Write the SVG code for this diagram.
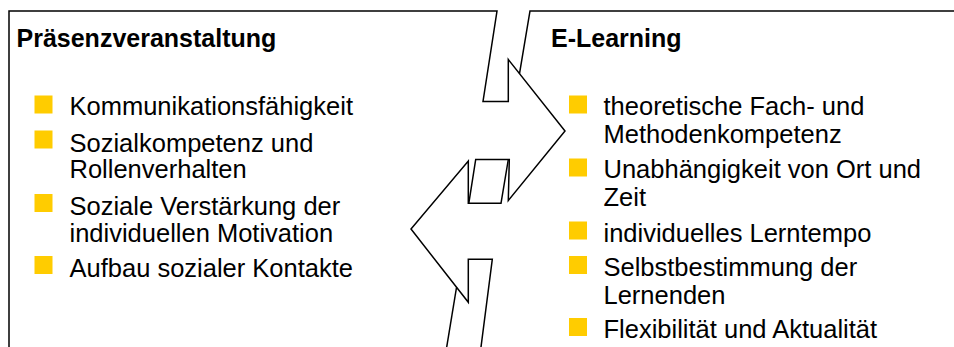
<svg xmlns="http://www.w3.org/2000/svg" width="954" height="347" viewBox="0 0 954 347">
<style>
.ln{fill:none;stroke:#000;stroke-width:1.5;stroke-linejoin:miter}
.t{font-family:"Liberation Sans",Arial,sans-serif;font-size:25.5px;fill:#000}
.h{font-weight:bold;font-size:25px}
.b{fill:#FFCC00}
</style>
<rect width="954" height="347" fill="#fff"/>
<g id="connectors">
<path class="ln" d="M9,347 V11 H497 L483,101.5 H508.3 V59.5 L565,131 L508.3,200.5 L509.3,159.5 H475.7 L468.8,203.3"/>
<path class="ln" d="M481,347 L492.3,259.3 H468.3 V302.3 L411,229 L468.3,161 V203.3 H501 L508.3,159.5"/>
<path class="ln" d="M446.7,347 L456.5,287.5"/>
<path class="ln" d="M954,11 H530 L519.5,73.6"/>
</g>
<g id="praesenz">
<text class="t h" x="16.5" y="47">Präsenzveranstaltung</text>
<rect class="b" x="34.5" y="95.5" width="18" height="18"/>
<text class="t" x="69.5" y="115">Kommunikationsfähigkeit</text>
<rect class="b" x="34.5" y="130.5" width="18" height="18"/>
<text class="t" x="69.5" y="151.7">Sozialkompetenz und</text>
<text class="t" x="69.5" y="178.3">Rollenverhalten</text>
<rect class="b" x="34.5" y="194" width="18" height="18"/>
<text class="t" x="69.5" y="215">Soziale Verstärkung der</text>
<text class="t" x="69.5" y="241.7">individuellen Motivation</text>
<rect class="b" x="34.5" y="256" width="18" height="18"/>
<text class="t" x="69.5" y="276.7">Aufbau sozialer Kontakte</text>
</g>
<g id="elearning">
<text class="t h" x="551" y="47">E-Learning</text>
<rect class="b" x="569" y="95.5" width="18" height="18"/>
<text class="t" x="603.5" y="115">theoretische Fach- und</text>
<text class="t" x="603.5" y="143">Methodenkompetenz</text>
<rect class="b" x="569" y="158.5" width="18" height="18"/>
<text class="t" x="603.5" y="178">Unabhängigkeit von Ort und</text>
<text class="t" x="603.5" y="206">Zeit</text>
<rect class="b" x="569" y="221.5" width="18" height="18"/>
<text class="t" x="603.5" y="241.5">individuelles Lerntempo</text>
<rect class="b" x="569" y="256" width="18" height="18"/>
<text class="t" x="603.5" y="276">Selbstbestimmung der</text>
<text class="t" x="603.5" y="304">Lernenden</text>
<rect class="b" x="569" y="318" width="18" height="18"/>
<text class="t" x="603.5" y="338">Flexibilität und Aktualität</text>
</g>
</svg>
